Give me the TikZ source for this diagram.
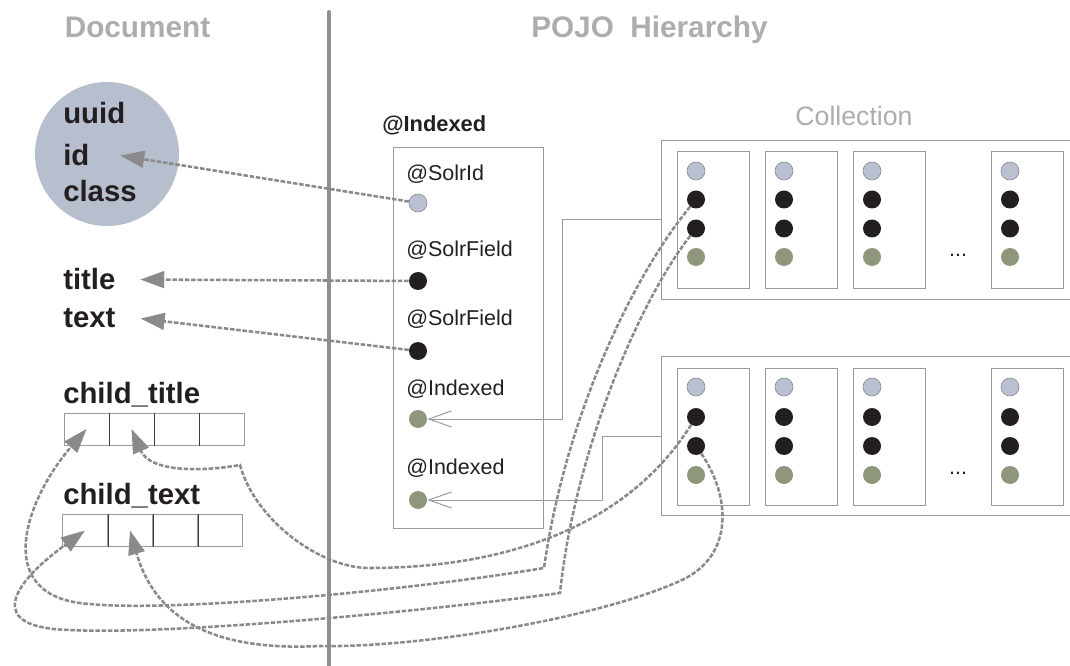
\documentclass[tikz,border=0pt]{standalone}
\usepackage{fontspec}
\setmainfont{Liberation Sans}
\usetikzlibrary{arrows.meta}

\definecolor{headgray}{HTML}{ADADAD}
\definecolor{inkblack}{HTML}{231F20}
\definecolor{rulegray}{HTML}{8F8F92}
\definecolor{boxgray}{HTML}{9A9A9A}
\definecolor{flowgray}{HTML}{8A8A8C}
\definecolor{blobfill}{HTML}{B7BECE}
\definecolor{dotblue}{HTML}{B9C0D0}
\definecolor{dotedge}{HTML}{8C8F96}
\definecolor{dotgreen}{HTML}{8E977B}
\definecolor{cellrule}{HTML}{3A3A3A}

\begin{document}
\begin{tikzpicture}[x=0.75pt,y=-0.75pt,
  head/.style={font=\fontsize{22.3}{26}\selectfont\bfseries, text=headgray, inner sep=0},
  doclbl/.style={font=\fontsize{22}{26}\selectfont\bfseries, text=inkblack, inner sep=0, anchor=base west},
  ann/.style={font=\fontsize{16.1}{19}\selectfont, text=inkblack, inner sep=0, anchor=base west},
  dot/.style={circle, minimum size=13.5pt, inner sep=0},
  iddot/.style={dot, fill=dotblue, draw=dotedge, line width=0.5pt},
  fielddot/.style={dot, fill=inkblack},
  refdot/.style={dot, fill=dotgreen},
  frame/.style={draw=boxgray, line width=0.75pt, inner sep=0},
  cellbox/.style={frame, minimum width=54pt, minimum height=102.75pt},
  cellsq/.style={frame, minimum width=33.75pt, minimum height=24pt},
  divline/.style={draw=cellrule, line width=0.75pt},
  flow/.style={draw=flowgray, line width=1.9pt, dash pattern=on 3.4pt off 1.3pt,
               -{Triangle[length=18pt,width=12.5pt]}},
  link/.style={draw=boxgray, line width=0.75pt, -{Straight Barb[length=17pt,width=12pt]}}]

\useasboundingbox (0,0) rectangle (1070,666);

% headings and divider
\node[head, anchor=base] (docHead) at (137.5,38) {Document};
\node[head, anchor=base west] (pojoHead) at (531,38) {POJO\ \ Hierarchy};
\draw[rulegray, line width=3pt, line cap=round] (329,12) -- (329,666);

% document fields
\node[circle, fill=blobfill, minimum size=108pt, inner sep=0] (blob) at (107,154) {};
\node[doclbl] (uuidLbl) at (63,124) {uuid};
\node[doclbl] (idLbl) at (63,166) {id};
\node[doclbl] (classLbl) at (63,202) {class};
\node[doclbl] (titleLbl) at (63,290) {title};
\node[doclbl] (textLbl) at (63,328) {text};
\node[doclbl] (ctLbl) at (63,403) {child\_title};
\node[doclbl] (cxLbl) at (63,504) {child\_text};

% multi-valued fields
\foreach \i/\x in {1/86.5,2/131.5,3/176.5,4/221.5}
  \node[cellsq] (ct\i) at (\x,429) {};
\foreach \i/\x in {1/85,2/130,3/175,4/220}
  \node[cellsq] (cx\i) at (\x,530.5) {};
\foreach \i in {1,2,3} {
  \draw[divline] (ct\i.north east) -- (ct\i.south east);
  \draw[divline] (cx\i.north east) -- (cx\i.south east);
}

% annotated POJO
\node[font=\fontsize{16.4}{19}\selectfont\bfseries, text=inkblack, inner sep=0, anchor=base west]
  (pojoLbl) at (382,131.7) {@Indexed};
\node[frame, minimum width=112.5pt, minimum height=285pt] (pojo) at (468,338) {};
\node[ann] (aId) at (406,180.7) {@SolrId};
\node[ann] (aF1) at (406,256.7) {@SolrField};
\node[ann] (aF2) at (406,325.7) {@SolrField};
\node[ann] (aX1) at (406,395) {@Indexed};
\node[ann] (aX2) at (406,474) {@Indexed};
\node[iddot] (idDot) at (418,203) {};
\node[fielddot] (sf1Dot) at (418,281) {};
\node[fielddot] (sf2Dot) at (418,351) {};
\node[refdot] (ix1Dot) at (418,419) {};
\node[refdot] (ix2Dot) at (418,500) {};

% collections
\node[font=\fontsize{20}{24}\selectfont, text=headgray, inner sep=0, anchor=base]
  (collLbl) at (854,126) {Collection};
\node[inner sep=0, minimum width=306pt, minimum height=118.5pt] (coll1) at (866,220) {};
\node[inner sep=0, minimum width=306pt, minimum height=118.5pt] (coll2) at (866,436) {};
\foreach \k in {1,2}
  \draw[boxgray, line width=0.75pt] (coll\k.north east) -- (coll\k.north west)
    -- (coll\k.south west) -- (coll\k.south east);

\foreach \cn/\cy/\ya/\yb/\yc/\yd in {1/220.5/171/199.5/228.5/257, 2/436.5/387/417/446/475} {
  \foreach \bx/\bn in {713/1,801/2,889/3,1027/4} {
    \node[cellbox] (c\cn b\bn) at (\bx,\cy) {};
    \node[iddot] (c\cn b\bn-1) at (\bx-17,\ya) {};
    \node[fielddot] (c\cn b\bn-2) at (\bx-17,\yb) {};
    \node[fielddot] (c\cn b\bn-3) at (\bx-17,\yc) {};
    \node[refdot] (c\cn b\bn-4) at (\bx-17,\yd) {};
  }
}
\node[ann, anchor=base] (ell1) at (958,257) {...};
\node[ann, anchor=base] (ell2) at (958,474) {...};

% references to the collections
\draw[link] (coll1.west) -- ++(-99,0) |- (ix1Dot);
\draw[link] (coll2.west) -- ++(-59,0) |- (ix2Dot);

% single-valued field mappings
\draw[flow] (idDot) -- ([xshift=23pt]idLbl.east);
\draw[flow] (sf1Dot) -- ([xshift=18.4pt]titleLbl.east);
\draw[flow] (sf2Dot) -- ([xshift=18.7pt]textLbl.east);

% collection field mappings
\draw[flow] (c1b1-2) .. controls (630,280) and (565,420) .. (544,568)
  .. controls (400,592) and (170,612) .. (90,604)
  .. controls (-10,598) and (25,500) .. (ct1.center);
\draw[flow] (c1b1-3) .. controls (640,300) and (575,450) .. (560,593)
  .. controls (420,612) and (170,635) .. (70,630)
  .. controls (-15,628) and (10,585) .. (cx1.center);
\draw[flow] (c2b1-2) .. controls (625,530) and (500,568) .. (369,568)
  .. controls (320,568) and (255,520) .. (240,465)
  .. controls (200,472) and (150,472) .. (ct2.center);
\draw[flow] (c2b1-3) .. controls (730,495) and (735,555) .. (682,580)
  .. controls (600,618) and (420,648) .. (320,646)
  .. controls (240,650) and (160,635) .. (cx2.center);
\end{tikzpicture}
\end{document}
